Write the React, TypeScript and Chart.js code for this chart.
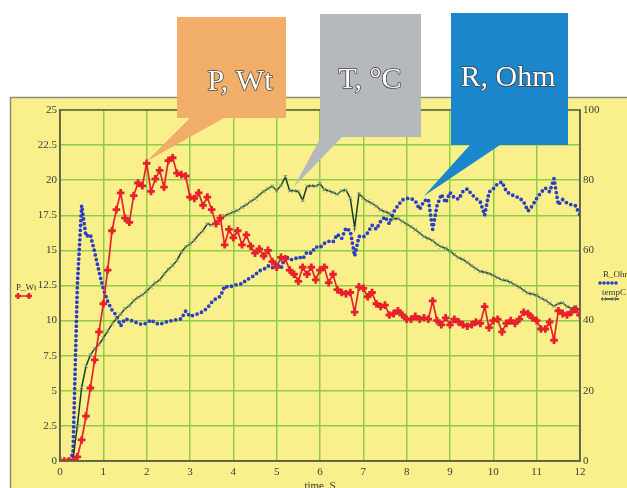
import React, { useEffect, useRef } from 'react';
import { Chart, registerables } from 'chart.js';

Chart.register(...registerables);

// ---------- data ----------
const TIME = [
  0, 0.1, 0.2, 0.3, 0.4, 0.5, 0.6, 0.7, 0.8, 0.9,
  1, 1.1, 1.2, 1.3, 1.4, 1.5, 1.6, 1.7, 1.8, 1.9,
  2, 2.1, 2.2, 2.3, 2.4, 2.5, 2.6, 2.7, 2.8, 2.9,
  3, 3.1, 3.2, 3.3, 3.4, 3.5, 3.6, 3.7, 3.8, 3.9,
  4, 4.1, 4.2, 4.3, 4.4, 4.5, 4.6, 4.7, 4.8, 4.9,
  5, 5.1, 5.2, 5.3, 5.4, 5.5, 5.6, 5.7, 5.8, 5.9,
  6, 6.1, 6.2, 6.3, 6.4, 6.5, 6.6, 6.7, 6.8, 6.9,
  7, 7.1, 7.2, 7.3, 7.4, 7.5, 7.6, 7.7, 7.8, 7.9,
  8, 8.1, 8.2, 8.3, 8.4, 8.5, 8.6, 8.7, 8.8, 8.9,
  9, 9.1, 9.2, 9.3, 9.4, 9.5, 9.6, 9.7, 9.8, 9.9,
  10, 10.1, 10.2, 10.3, 10.4, 10.5, 10.6, 10.7, 10.8, 10.9,
  11, 11.1, 11.2, 11.3, 11.4, 11.5, 11.6, 11.7, 11.8, 11.9,
  12,
];

const P_WT = [
  0, 0, 0, 0, 0.3, 1.5, 3.2, 5.2, 7.2, 9.2,
  11.2, 13.6, 16.4, 17.9, 19.1, 17.3, 17.0, 18.9, 19.8, 19.6,
  21.2, 19.2, 20.1, 20.7, 19.5, 21.4, 21.6, 20.5, 20.4, 20.3,
  18.8, 18.7, 19.1, 18.2, 18.8, 17.9, 16.9, 17.3, 15.4, 16.5,
  15.9, 16.4, 15.4, 16.1, 15.3, 14.8, 15.1, 14.6, 15.0, 14.2,
  13.8, 14.5, 14.4, 13.6, 13.3, 12.8, 13.8, 13.3, 13.8, 12.9,
  13.6, 13.8, 12.7, 13.3, 12.2, 12.0, 11.9, 12.0, 10.6, 12.4,
  12.3, 11.7, 12.0, 11.2, 11.0, 11.1, 10.4, 10.5, 10.7, 10.4,
  10.1, 10.1, 10.3, 10.1, 10.2, 10.1, 11.4, 10.0, 9.7, 10.2,
  9.7, 10.1, 9.9, 9.7, 9.6, 9.7, 9.9, 9.8, 11.0, 9.5,
  10.0, 10.1, 9.2, 9.8, 10.0, 9.8, 10.1, 10.6, 10.5, 10.2,
  10.0, 9.4, 9.4, 9.9, 8.6, 10.7, 10.5, 10.4, 10.6, 10.8,
  10.4,
];

const TEMP_C = [
  0, 0, 0, 0.5, 10, 21, 27, 30.2, 32, 33.2,
  35, 37, 39, 40.6, 41.8, 43.4, 44.2, 45.7, 46.6, 47.3,
  48.4, 49.6, 50.8, 51.5, 53.2, 54.6, 55.7, 57.2, 59.5, 61.0,
  61.8, 62.9, 64.5, 65.6, 67.6, 67.2, 68.0, 68.6, 69.9, 70.4,
  70.9, 71.4, 72.3, 73.0, 74.0, 74.7, 75.8, 76.8, 77.6, 78.3,
  77.0, 78.5, 81.0, 77.0, 77.0, 76.8, 74.3, 78.3, 78.4, 78.3,
  79.0, 77.3, 77.0, 76.5, 76.0, 77.0, 77.2, 74.8, 66.5, 76.2,
  74.9, 74.0, 73.4, 72.6, 71.5, 71.0, 70.6, 69.0, 69.1, 68.3,
  67.5, 66.8, 65.9, 64.9, 63.9, 63.4, 62.8, 61.7, 61.0, 60.6,
  59.8, 58.8, 57.9, 57.4, 56.6, 55.6, 54.8, 54.0, 53.8, 53.4,
  52.9, 52.2, 51.6, 51.4, 50.9, 50.2, 49.5, 48.6, 47.8, 47.6,
  47.2, 46.4, 45.8, 44.9, 44.1, 44.8, 45.1, 44.0, 43.5, 44.0,
  42.7,
];

const R_OHM = [
  0, 0, 0.3, 2, 50, 72.8, 64, 64.5, 59.5, 54,
  49, 45.5, 43, 41.5, 38.5, 40.5, 40.2, 39.8, 39.2, 38.9,
  39.3, 40.2, 39.3, 38.9, 39.4, 39.8, 40.0, 40.3, 40.5, 42.7,
  41.2, 41.6, 42.0, 42.6, 43.6, 45.2, 46.3, 46.9, 49.8, 49.5,
  50.0, 50.3, 50.5, 51.6, 52.2, 53.0, 54.2, 54.6, 55.6, 55.0,
  56.3, 54.8, 58.4, 57.4, 57.4, 58.2, 57.6, 59.5, 59.2, 61.0,
  60.8, 62.0, 62.6, 62.4, 64.6, 63.4, 66.4, 65.5, 58.4, 64.0,
  63.8, 65.0, 67.2, 66.0, 68.3, 69.6, 67.6, 71.0, 72.8, 74.4,
  74.8, 74.8, 74.1, 71.7, 74.1, 74.6, 66.0, 72.7, 76.0, 73.6,
  76.5, 75.0, 74.6, 76.8, 77.5, 76.0, 74.8, 73.8, 70.0, 76.6,
  77.6, 79.0, 79.5, 76.8, 76.0, 75.4, 75.0, 73.8, 71.2, 72.7,
  74.8, 76.5, 77.8, 76.7, 80.5, 73.0, 74.5, 73.5, 73.0, 72.7,
  70.0,
];

const LEFT_TICKS = [0, 2.5, 5, 7.5, 10, 12.5, 15, 17.5, 20, 22.5, 25];
const RIGHT_TICKS = [0, 20, 40, 60, 80, 100];
const X_TICKS = [0, 1, 2, 3, 4, 5, 6, 7, 8, 9, 10, 11, 12];

const SERIES_NAMES = ['P_Wt', 'R_Ohm', 'tempC'];
const X_TITLE = 'time, S';
const CALLOUT_TEXTS = ['P, Wt', 'T, \u00B0C', 'R, Ohm'];
// indices of the data points the callout pointers aim at
const CALLOUT_ANCHORS = [20, 54, 84];

// ---------- styles ----------
const YELLOW = '#f9f08c';
const GRID = '#8fcb45';
const AXIS = '#5f6048';
const RED = '#e8202c';
const BLUE = '#2b3fc0';
const GREEN = '#183d22';
const GREEN_MARK = '#7e9c7a';
const TICK_FONT = '"Liberation Serif", "DejaVu Serif", serif';

function pts(ys: number[]) {
  return ys.map((y, i) => ({ x: TIME[i], y }));
}

function drawCallout(
  ctx: CanvasRenderingContext2D,
  box: { x: number; y: number; w: number; h: number },
  base: [number, number],
  tip: { x: number; y: number },
  color: string,
  text: string,
  tx: number,
  ty: number
) {
  ctx.save();
  ctx.fillStyle = color;
  ctx.beginPath();
  ctx.moveTo(box.x, box.y);
  ctx.lineTo(box.x + box.w, box.y);
  ctx.lineTo(box.x + box.w, box.y + box.h);
  ctx.lineTo(base[1], box.y + box.h);
  ctx.lineTo(tip.x, tip.y);
  ctx.lineTo(base[0], box.y + box.h);
  ctx.lineTo(box.x, box.y + box.h);
  ctx.closePath();
  ctx.fill();
  ctx.font = `30px ${TICK_FONT}`;
  ctx.textAlign = 'center';
  ctx.textBaseline = 'alphabetic';
  ctx.lineJoin = 'round';
  ctx.strokeStyle = 'rgba(60,60,60,0.9)';
  ctx.lineWidth = 1.6;
  ctx.strokeText(text, tx, ty);
  ctx.fillStyle = '#ffffff';
  ctx.fillText(text, tx, ty);
  ctx.restore();
}

const decorPlugin = {
  id: 'decor',
  beforeDraw(chart: any) {
    const ctx: CanvasRenderingContext2D = chart.ctx;
    const W = chart.width;
    const H = chart.height;
    ctx.save();
    ctx.fillStyle = '#ffffff';
    ctx.fillRect(0, 0, W, H);
    ctx.fillStyle = YELLOW;
    ctx.fillRect(10, 97, W - 10, H - 97);
    ctx.strokeStyle = '#8d8c7c';
    ctx.lineWidth = 1.5;
    ctx.beginPath();
    ctx.moveTo(10.5, H);
    ctx.lineTo(10.5, 97.5);
    ctx.lineTo(W, 97.5);
    ctx.stroke();
    ctx.restore();
  },
  afterDraw(chart: any) {
    const ctx: CanvasRenderingContext2D = chart.ctx;
    const a = chart.chartArea;
    const xs = chart.scales.x;
    const yl = chart.scales.y;
    const yr = chart.scales.y1;
    ctx.save();
    // plot frame
    ctx.strokeStyle = AXIS;
    ctx.lineWidth = 1.5;
    ctx.strokeRect(a.left, a.top, a.right - a.left, a.bottom - a.top);

    // axis title
    ctx.fillStyle = '#333';
    ctx.font = `11px ${TICK_FONT}`;
    ctx.textAlign = 'center';
    ctx.textBaseline = 'top';
    ctx.fillText(X_TITLE, (a.left + a.right) / 2, 481);

    // left legend (P_Wt)
    ctx.textAlign = 'left';
    ctx.textBaseline = 'alphabetic';
    ctx.font = `9px ${TICK_FONT}`;
    ctx.fillText(SERIES_NAMES[0], 16, 290);
    ctx.strokeStyle = RED;
    ctx.lineWidth = 1.5;
    ctx.beginPath();
    ctx.moveTo(15, 296);
    ctx.lineTo(32, 296);
    ctx.stroke();
    ctx.lineWidth = 2.5;
    [18, 29].forEach((mx) => {
      ctx.beginPath();
      ctx.moveTo(mx - 3, 296);
      ctx.lineTo(mx + 3, 296);
      ctx.moveTo(mx, 293);
      ctx.lineTo(mx, 299);
      ctx.stroke();
    });

    // right legend
    ctx.fillStyle = '#333';
    ctx.fillText(SERIES_NAMES[1], 603, 277);
    ctx.fillStyle = BLUE;
    for (let dx = 600; dx <= 618; dx += 4) {
      ctx.beginPath();
      ctx.arc(dx, 283, 1.8, 0, Math.PI * 2);
      ctx.fill();
    }
    ctx.fillStyle = '#333';
    ctx.fillText(SERIES_NAMES[2], 602, 295);
    ctx.strokeStyle = GREEN;
    ctx.lineWidth = 1.4;
    ctx.beginPath();
    ctx.moveTo(601, 299);
    ctx.lineTo(619, 299);
    ctx.stroke();
    ctx.strokeStyle = GREEN_MARK;
    ctx.lineWidth = 1;
    [604, 614].forEach((mx) => {
      ctx.beginPath();
      ctx.moveTo(mx - 2, 297);
      ctx.lineTo(mx + 2, 301);
      ctx.moveTo(mx + 2, 297);
      ctx.lineTo(mx - 2, 301);
      ctx.stroke();
    });
    ctx.restore();

    // callouts
    const tipP = {
      x: xs.getPixelForValue(TIME[CALLOUT_ANCHORS[0]]),
      y: yl.getPixelForValue(P_WT[CALLOUT_ANCHORS[0]]) - 2,
    };
    const tipT = {
      x: xs.getPixelForValue(TIME[CALLOUT_ANCHORS[1]]),
      y: yr.getPixelForValue(TEMP_C[CALLOUT_ANCHORS[1]]) - 4,
    };
    const tipR = {
      x: xs.getPixelForValue(TIME[CALLOUT_ANCHORS[2]]),
      y: yr.getPixelForValue(R_OHM[CALLOUT_ANCHORS[2]]) - 5,
    };
    drawCallout(ctx, { x: 177, y: 17, w: 109, h: 101 }, [190, 224], tipP, '#f1ae68', CALLOUT_TEXTS[0], 240, 90);
    drawCallout(ctx, { x: 320, y: 14, w: 101, h: 123 }, [321, 342], tipT, '#b6b9bb', CALLOUT_TEXTS[1], 370, 88);
    drawCallout(ctx, { x: 451, y: 13, w: 117, h: 132 }, [470, 500], tipR, '#1b86cb', CALLOUT_TEXTS[2], 508, 86);
  },
};

export default function App() {
  const ref = useRef<HTMLCanvasElement | null>(null);

  useEffect(() => {
    document.body.style.margin = '0';
    const canvas = ref.current!;
    const tickFont = { family: TICK_FONT, size: 11 };
    const chart = new Chart(canvas, {
      type: 'line',
      data: {
        datasets: [
          {
            label: SERIES_NAMES[0],
            data: pts(P_WT),
            yAxisID: 'y',
            borderColor: RED,
            borderWidth: 1.7,
            pointStyle: 'cross',
            pointRadius: 3.8,
            pointBorderWidth: 2.8,
            pointBorderColor: RED,
            pointBackgroundColor: RED,
            tension: 0,
            order: 1,
          },
          {
            label: SERIES_NAMES[2],
            data: pts(TEMP_C),
            yAxisID: 'y1',
            borderColor: GREEN,
            borderWidth: 1.5,
            pointStyle: 'crossRot',
            pointRadius: 2.6,
            pointBorderWidth: 1,
            pointBorderColor: GREEN_MARK,
            tension: 0,
            order: 2,
          },
          {
            label: SERIES_NAMES[1],
            data: pts(R_OHM),
            yAxisID: 'y1',
            borderColor: BLUE,
            borderWidth: 3.8,
            borderDash: [0, 4.8],
            borderCapStyle: 'round',
            pointRadius: 0,
            tension: 0,
            order: 3,
          },
        ],
      },
      options: {
        responsive: false,
        animation: false,
        layout: { padding: { top: 110, left: 0, right: 0, bottom: 0 } },
        plugins: {
          legend: { display: false },
          tooltip: { enabled: false },
        },
        scales: {
          x: {
            type: 'linear',
            min: 0,
            max: 12,
            afterBuildTicks: (s: any) => {
              s.ticks = X_TICKS.map((v) => ({ value: v }));
            },
            afterFit: (s: any) => {
              s.height = 27;
            },
            grid: { color: GRID, lineWidth: 1.5, drawTicks: false },
            border: { color: AXIS, width: 1.5 },
            ticks: { color: '#3a3a3a', font: tickFont, padding: 5, maxRotation: 0, autoSkip: false },
          },
          y: {
            type: 'linear',
            position: 'left',
            min: 0,
            max: 25,
            afterBuildTicks: (s: any) => {
              s.ticks = LEFT_TICKS.map((v) => ({ value: v }));
            },
            afterFit: (s: any) => {
              s.width = 60;
            },
            grid: { color: GRID, lineWidth: 1.5, drawTicks: false },
            border: { color: AXIS, width: 1.5 },
            ticks: { color: '#3a3a3a', font: tickFont, padding: 3, autoSkip: false },
          },
          y1: {
            type: 'linear',
            position: 'right',
            min: 0,
            max: 100,
            afterBuildTicks: (s: any) => {
              s.ticks = RIGHT_TICKS.map((v) => ({ value: v }));
            },
            afterFit: (s: any) => {
              s.width = 47;
            },
            grid: { display: false, drawTicks: false },
            border: { color: AXIS, width: 1.5 },
            ticks: { color: '#3a3a3a', font: tickFont, padding: 3, autoSkip: false },
          },
        },
      },
      plugins: [decorPlugin],
    });
    return () => chart.destroy();
  }, []);

  return (
    <div style={{ position: 'absolute', left: 0, top: 0, width: 627, height: 488 }}>
      <canvas ref={ref} width={627} height={488} style={{ display: 'block', width: 627, height: 488 }} />
    </div>
  );
}
